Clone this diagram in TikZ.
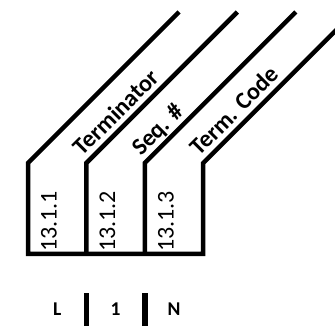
\documentclass[tikz,border=0pt]{standalone}
\usepackage{fontspec}
\setmainfont{Carlito}
\begin{document}
\begin{tikzpicture}[x=1pt,y=1pt,
  wire/.style={line width=4.5pt, line join=miter, line cap=butt},
  sep/.style={line width=5.5pt, line cap=butt},
  tag/.style={font=\fontsize{24}{24}\selectfont\bfseries, rotate=45, anchor=base west, inner sep=0pt},
  num/.style={font=\fontsize{24}{24}\selectfont, rotate=90, anchor=base west, inner sep=0pt},
  pin/.style={font=\fontsize{19.5}{20}\selectfont\bfseries, anchor=base, inner sep=0pt}]
\useasboundingbox (0,0) rectangle (335,326);
\clip (0,0) rectangle (335,326);

% foot of each wire, its bend, and its far end
\coordinate (b1) at (28,72);    \coordinate (k1) at (28,163);    \coordinate (t1) at (179,314);
\coordinate (b2) at (86.4,72);  \coordinate (k2) at (86.4,163);  \coordinate (t2) at (237.4,314);
\coordinate (b3) at (144.8,72); \coordinate (k3) at (144.8,163); \coordinate (t3) at (295.8,314);
\coordinate (b4) at (203.2,72); \coordinate (k4) at (203.2,163); \coordinate (t4) at (354.2,314);

% wires
\draw[wire] (t1) -- (k1) -- (b1) -- (b4) -- (k4) -- (t4);
\draw[wire] (b2) -- (k2) -- (t2);
\draw[wire] (b3) -- (k3) -- (t3);

% field names along the slanted wires
\node[tag] (f1) at (82.6,169.1) {Terminator};
\node[tag] (f2) at (141,169.1) {Seq. \#};
\node[tag] (f3) at (199.4,169.1) {Term. Code};

% section numbers
\node[num] (n1) at (56.7,74) {13.1.1};
\node[num] (n2) at (115.1,74) {13.1.2};
\node[num] (n3) at (173.5,74) {13.1.3};

% terminal row
\coordinate (s1a) at (86.4,0);  \coordinate (s1b) at (86.4,33.3);
\coordinate (s2a) at (144.8,0); \coordinate (s2b) at (144.8,33.3);
\draw[sep] (s1a) -- (s1b);
\draw[sep] (s2a) -- (s2b);
\node[pin] (pL) at (57.2,10) {L};
\node[pin] (p1) at (115.6,10) {1};
\node[pin] (pN) at (174,10) {N};
\end{tikzpicture}
\end{document}
